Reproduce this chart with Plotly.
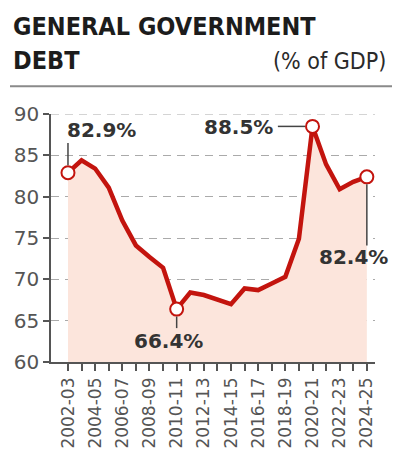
import plotly.graph_objects as go

years = ["2002-03", "2003-04", "2004-05", "2005-06", "2006-07", "2007-08", "2008-09",
         "2009-10", "2010-11", "2011-12", "2012-13", "2013-14", "2014-15", "2015-16",
         "2016-17", "2017-18", "2018-19", "2019-20", "2020-21", "2021-22", "2022-23",
         "2023-24", "2024-25"]
debt = [82.9, 84.4, 83.4, 81.1, 77.1, 74.1, 72.7, 71.4, 66.4, 68.4, 68.1, 67.6,
        67.0, 68.9, 68.7, 69.5, 70.3, 74.9, 88.5, 83.9, 80.9, 81.8, 82.4]
tick_labels = [y if i % 2 == 0 else "" for i, y in enumerate(years)]
yticks = [60, 65, 70, 75, 80, 85, 90]
highlight_idx = [0, 8, 18, 22]

RED = "#c3140e"
FILL = "#fce5dc"
GREY = "#555555"
FONT = "DejaVu Sans"

fig = go.Figure()
fig.add_trace(go.Scatter(
    x=years, y=debt, mode="lines", fill="tozeroy", fillcolor=FILL,
    line=dict(color=RED, width=4.5, shape="linear"), hoverinfo="skip",
))
fig.add_trace(go.Scatter(
    x=[years[i] for i in highlight_idx], y=[debt[i] for i in highlight_idx],
    mode="markers",
    marker=dict(size=13, color="white", line=dict(color=RED, width=2)),
    hoverinfo="skip",
))

# top gridline (plotly omits the gridline at the range edge)
fig.add_shape(type="line", xref="paper", yref="y", x0=0, x1=1,
              y0=yticks[-1], y1=yticks[-1], layer="below",
              line=dict(color="#aaaaaa", width=1.2, dash="8px,6px"))

# leader lines (offsets from data points)
leaders = [
    (0, 0, 0.9, 0, 3.6),
    (8, 0, -0.9, 0, -2.3),
    (22, 0, -0.9, 0, -8.3),
    (18, -0.55, 0, -2.55, 0),
]
for i, dx0, dy0, dx1, dy1 in leaders:
    fig.add_shape(type="line", xref="x", yref="y",
                  x0=i + dx0, y0=debt[i] + dy0, x1=i + dx1, y1=debt[i] + dy1,
                  line=dict(color="#444444", width=1.5))

labels = [(0, 2.46, 5.2), (8, -0.6, -3.9), (18, -5.43, -0.1), (22, -0.96, -9.7)]
for i, dx, dy in labels:
    fig.add_annotation(x=i + dx, y=debt[i] + dy, xref="x", yref="y",
                       text=f"{debt[i]:.1f}%", showarrow=False,
                       font=dict(family=FONT, size=20, color="#333333", weight="bold"),
                       xanchor="center", yanchor="middle")

TFONT = "DejaVu Sans Condensed, Liberation Sans Narrow, DejaVu Sans"
fig.add_annotation(xref="paper", yref="paper", x=-0.125, y=(364 - 26) / 250,
                   text="GENERAL GOVERNMENT", showarrow=False, xanchor="left", yanchor="middle",
                   font=dict(family=TFONT, size=25, color="#1c1c1c", weight="bold"))
fig.add_annotation(xref="paper", yref="paper", x=-0.125, y=(364 - 60) / 250,
                   text="DEBT", showarrow=False, xanchor="left", yanchor="middle",
                   font=dict(family=TFONT, size=25, color="#1c1c1c", weight="bold"))
fig.add_annotation(xref="paper", yref="paper", x=(388 - 51) / 324, y=(364 - 61) / 250,
                   text="(% of GDP)", showarrow=False, xanchor="right", yanchor="middle",
                   font=dict(family=TFONT, size=23, color="#2a2a2a"))
fig.add_shape(type="line", xref="paper", yref="paper",
              x0=(10 - 51) / 324, x1=(392 - 51) / 324, y0=(364 - 86) / 250, y1=(364 - 86) / 250,
              line=dict(color="#8a8a8a", width=2))

fig.update_layout(
    width=395, height=461,
    margin=dict(l=51, r=20, t=114, b=97),
    paper_bgcolor="white", plot_bgcolor="white",
    showlegend=False,
    xaxis=dict(
        type="category", range=[-1.25, 22.6],
        tickmode="array", tickvals=years, ticktext=tick_labels,
        tickangle=-90, ticks="outside", ticklen=7, tickwidth=1.5, tickcolor=GREY,
        showline=True, linecolor=GREY, linewidth=1.5, showgrid=False,
        tickfont=dict(family=FONT, size=17, color=GREY),
    ),
    yaxis=dict(
        range=[60, 90], tickmode="array", tickvals=yticks,
        ticks="outside", ticklen=6, tickwidth=1.5, tickcolor=GREY,
        showline=True, linecolor=GREY, linewidth=1.5,
        showgrid=True, gridcolor="#aaaaaa", gridwidth=1.2, griddash="8px,6px",
        zeroline=False,
        tickfont=dict(family=FONT, size=20, color=GREY),
    ),
)

fig.write_html("out.html")
